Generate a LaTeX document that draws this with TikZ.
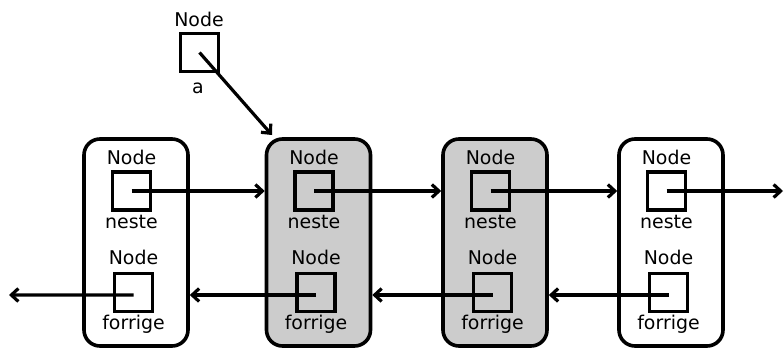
\documentclass[tikz,border=0pt]{standalone}
\usepackage{fontspec}
\setmainfont{DejaVu Sans}
\usetikzlibrary{arrows.meta}
\begin{document}
\begin{tikzpicture}[x=1bp,y=-1bp,
  lnode/.style={draw, line width=3.6bp, rounded corners=16bp, minimum width=104bp, minimum height=207bp, inner sep=0},
  ptr/.style={draw, line width=3.6bp, minimum size=38bp, inner sep=0},
  lbl/.style={font=\fontsize{19}{21}\selectfont, inner sep=0, anchor=base},
  arr/.style={line width=3.2bp, -{Straight Barb[length=7bp,width=13bp]}}
]
\useasboundingbox (0,0) rectangle (784,351);
% pointer a
\node[lbl] (an) at (199,26) {Node};
\node[ptr] (as) at (199.5,52.5) {};
\node[lbl] (al) at (198,93) {a};
% list nodes
\foreach \i/\x/\f in {1/136/white,2/318.5/gray!40,3/495/gray!40,4/671/white} {
  \node[lnode, fill=\f] (r\i) at (\x,242.5) {};
  \node[ptr] (t\i) at (\x-4.5,191) {};
  \node[ptr] (b\i) at (\x-2.5,292.5) {};
  \node[lbl] (tn\i) at (\x-4.5,164) {Node};
  \node[lbl] (tl\i) at (\x-4.5,228) {neste};
  \node[lbl] (bn\i) at (\x-2.5,264) {Node};
  \node[lbl] (bl\i) at (\x-2.5,329) {forrige};
}
\coordinate (aend) at (272,135);
\coordinate (rend) at (783,191);
\coordinate (lend) at (9,295);
\draw[arr] (as.center) -- (aend);
\draw[arr] (t1.center) -- (t1.center -| r2.west);
\draw[arr] (t2.center) -- (t2.center -| r3.west);
\draw[arr] (t3.center) -- (t3.center -| r4.west);
\draw[arr] (t4.center) -- (rend);
\draw[arr] ([yshift=-2.5bp]b2.center) -- ([yshift=-2.5bp]b2.center -| r1.east);
\draw[arr] ([yshift=-2.5bp]b3.center) -- ([yshift=-2.5bp]b3.center -| r2.east);
\draw[arr] ([yshift=-2.5bp]b4.center) -- ([yshift=-2.5bp]b4.center -| r3.east);
\draw[arr] ([yshift=-2.5bp]b1.center) -- (lend);
\end{tikzpicture}
\end{document}
